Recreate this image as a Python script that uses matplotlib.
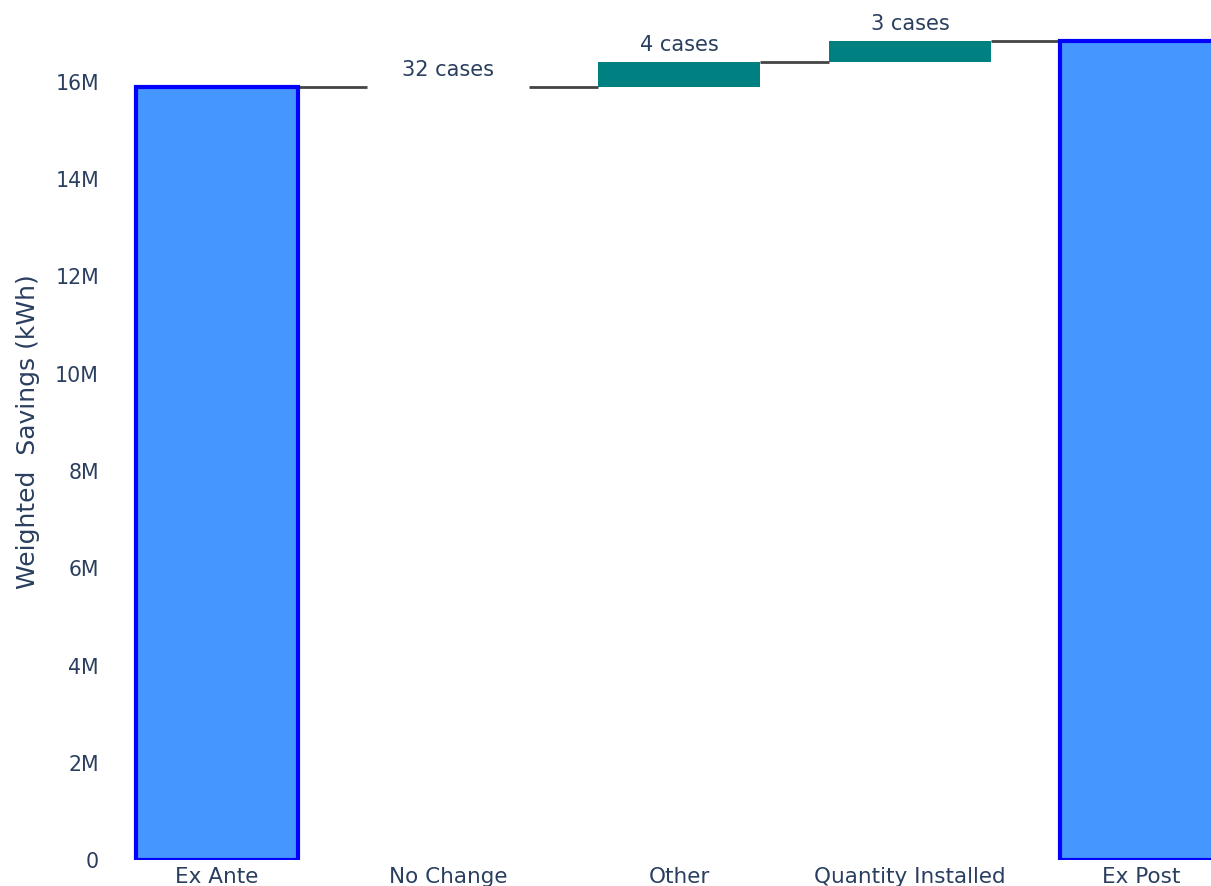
import matplotlib
matplotlib.use("Agg")
import matplotlib.pyplot as plt
from matplotlib.ticker import FuncFormatter

categories = ["Ex Ante", "No Change", "Other", "Quantity Installed", "Ex Post"]
measures = ["absolute", "relative", "relative", "relative", "total"]
values = [15.90e6, 0.0, 0.515e6, 0.43e6, None]
bar_texts = ["", "32 cases", "4 cases", "3 cases", ""]

TEXT = "#2a3f5f"
FONT = "DejaVu Sans"

W, H = 1211, 886
fig = plt.figure(figsize=(W / 100, H / 100), dpi=100)
fig.patch.set_facecolor("white")

# axes: x range -0.5..4.5 spans px 101.5..1256.5; y zero at px 860
ax = fig.add_axes([101.5 / W, 26 / H, 1155 / W, 860 / H])
ymax = 860 / 48.625 * 1e6
ax.set_xlim(-0.5, 4.5)
ax.set_ylim(0, ymax)

# compute waterfall
bottoms, heights, levels = [], [], []
cum = 0.0
for m, v in zip(measures, values):
    if m == "absolute":
        cum = v
        bottoms.append(0.0); heights.append(v)
    elif m == "relative":
        bottoms.append(cum); heights.append(v)
        cum = cum + v
    else:
        bottoms.append(0.0); heights.append(cum)
    levels.append(cum)

width = 0.7
for i, m in enumerate(measures):
    if m in ("absolute", "total"):
        ax.bar(i, heights[i], bottom=bottoms[i], width=width, color="#4597ff",
               edgecolor="#0000ff", linewidth=3.0, zorder=2)
    else:
        if heights[i] != 0:
            ax.bar(i, heights[i], bottom=bottoms[i], width=width, color="#008080",
                   linewidth=0, zorder=2)

# connectors
for i in range(len(categories) - 1):
    ax.plot([i + width / 2, i + 1 - width / 2], [levels[i], levels[i]],
            color="#444444", linewidth=2.0, zorder=1, solid_capstyle="butt")

# text labels above relative bars
for i, t in enumerate(bar_texts):
    if t:
        top = max(bottoms[i], bottoms[i] + heights[i])
        ax.annotate(t, xy=(i, top), xytext=(0, 7.5), textcoords="offset points",
                    ha="center", va="baseline", fontsize=15, color=TEXT, family=FONT)

ax.set_xticks(range(len(categories)))
ax.set_xticklabels(categories)
ax.set_yticks([i * 2e6 for i in range(9)])
ax.yaxis.set_major_formatter(FuncFormatter(lambda v, p: "0" if v == 0 else f"{v/1e6:.0f}M"))
ax.tick_params(axis="both", length=0, labelcolor=TEXT)
ax.tick_params(axis="y", pad=1.8, labelsize=14.8)
ax.tick_params(axis="x", pad=4.8, labelsize=15.5)
for lab in ax.get_xticklabels() + ax.get_yticklabels():
    lab.set_family(FONT)
for s in ax.spines.values():
    s.set_visible(False)

fig.text(28 / W, 1 - 432 / H, "Weighted  Savings (kWh)", rotation=90, ha="center",
         va="center", fontsize=18, color=TEXT, family=FONT)

fig.savefig("out.png", dpi=100)
